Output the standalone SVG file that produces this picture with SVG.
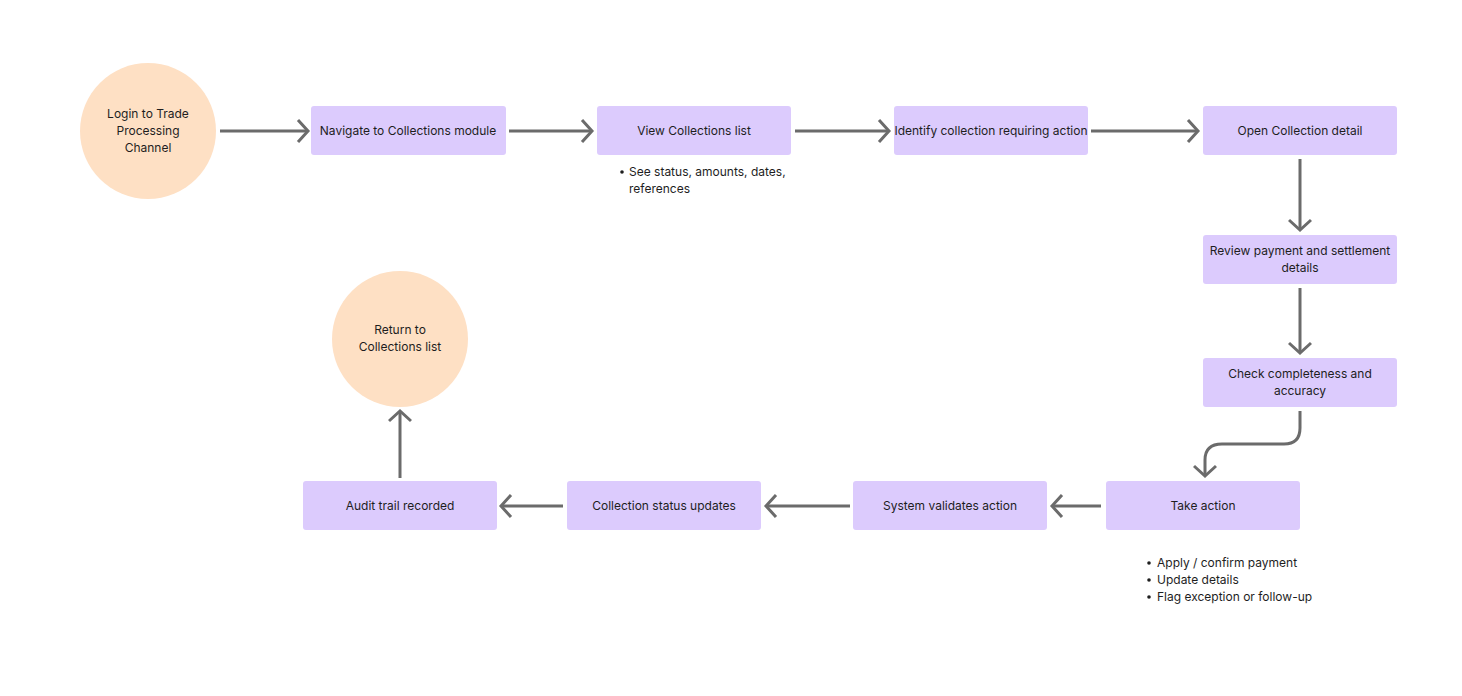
<svg xmlns="http://www.w3.org/2000/svg" width="1462" height="696" viewBox="0 0 1462 696">
<style>
.b{fill:#dccbfd;rx:3}
.c{fill:#fee0c4}
text{font-family:Inter,"Liberation Sans",sans-serif;font-size:12px;fill:#1e1e1e;text-anchor:middle}
.l{text-anchor:start}
.e{fill:none;stroke:#6b6b6b;stroke-width:3;marker-end:url(#a)}
</style>
<defs><marker id="a" markerUnits="userSpaceOnUse" markerWidth="24" markerHeight="24" refX="12" refY="12" orient="auto" viewBox="0 0 24 24"><path d="M2,1 L12,12 L2,23" fill="none" stroke="#6b6b6b" stroke-width="3"/></marker></defs>
<rect width="1462" height="696" fill="#fff"/>
<g id="connectors">
<path class="e" d="M220,131 H308"/>
<path class="e" d="M509,131 H592"/>
<path class="e" d="M795,131 H889"/>
<path class="e" d="M1091,131 H1198"/>
<path class="e" d="M1300,159 V230"/>
<path class="e" d="M1300,288 V353"/>
<path class="e" d="M1300,411 V428 Q1300,444 1284,444 H1222 Q1205,444 1205,460 V476"/>
<path class="e" d="M1101,506 H1052"/>
<path class="e" d="M850,506 H766"/>
<path class="e" d="M563,506 H501"/>
<path class="e" d="M400,478 V411"/>
</g>
<g id="login"><circle class="c" cx="148" cy="131" r="68"/><text x="148" y="118">Login to Trade</text><text x="148" y="135">Processing</text><text x="148" y="152">Channel</text></g>
<g id="navigate"><rect class="b" x="311" y="106" width="195" height="49"/><text x="408" y="135">Navigate to Collections module</text></g>
<g id="view"><rect class="b" x="597" y="106" width="194" height="49"/><text x="694" y="135">View Collections list</text></g>
<g id="view-note"><circle cx="622" cy="172" r="1.8" fill="#1e1e1e"/><text class="l" x="629" y="176">See status, amounts, dates,</text><text class="l" x="629" y="193">references</text></g>
<g id="identify"><rect class="b" x="894" y="106" width="194" height="49"/><text x="991" y="135">Identify collection requiring action</text></g>
<g id="open"><rect class="b" x="1203" y="106" width="194" height="49"/><text x="1300" y="135">Open Collection detail</text></g>
<g id="review"><rect class="b" x="1203" y="235" width="194" height="49"/><text x="1300" y="255">Review payment and settlement</text><text x="1300" y="272">details</text></g>
<g id="check"><rect class="b" x="1203" y="358" width="194" height="49"/><text x="1300" y="378">Check completeness and</text><text x="1300" y="395">accuracy</text></g>
<g id="take"><rect class="b" x="1106" y="481" width="194" height="49"/><text x="1203" y="510">Take action</text></g>
<g id="take-note"><circle cx="1149" cy="563" r="1.8" fill="#1e1e1e"/><circle cx="1149" cy="580" r="1.8" fill="#1e1e1e"/><circle cx="1149" cy="597" r="1.8" fill="#1e1e1e"/><text class="l" x="1157" y="567">Apply / confirm payment</text><text class="l" x="1157" y="584">Update details</text><text class="l" x="1157" y="601">Flag exception or follow-up</text></g>
<g id="validate"><rect class="b" x="853" y="481" width="194" height="49"/><text x="950" y="510">System validates action</text></g>
<g id="status"><rect class="b" x="567" y="481" width="194" height="49"/><text x="664" y="510">Collection status updates</text></g>
<g id="audit"><rect class="b" x="303" y="481" width="194" height="49"/><text x="400" y="510">Audit trail recorded</text></g>
<g id="return"><circle class="c" cx="400" cy="339" r="68"/><text x="400" y="334">Return to</text><text x="400" y="351">Collections list</text></g>
</svg>
